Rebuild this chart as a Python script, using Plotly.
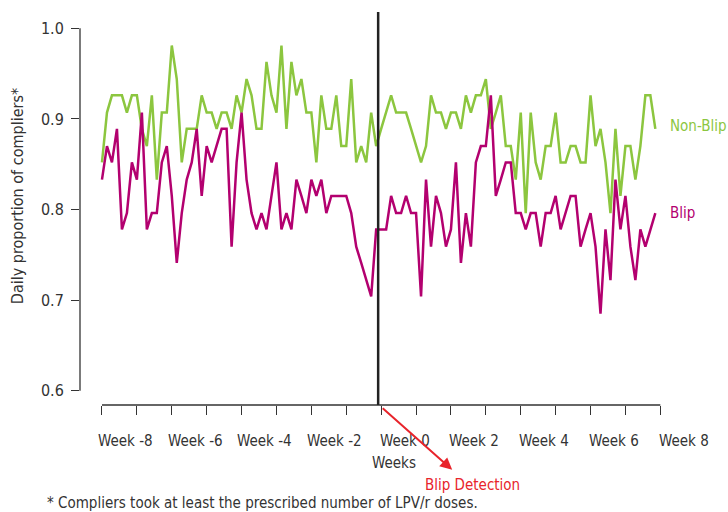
import plotly.graph_objects as go

# Daily index (days relative to blip detection)
days = list(range(-56, 56))

non_blip = [
    0.852, 0.907, 0.926, 0.926, 0.926, 0.907, 0.926, 0.926, 0.889, 0.870,
    0.926, 0.833, 0.907, 0.907, 0.981, 0.944, 0.852, 0.889, 0.889, 0.889,
    0.926, 0.907, 0.907, 0.889, 0.907, 0.907, 0.889, 0.926, 0.907, 0.944,
    0.926, 0.889, 0.889, 0.963, 0.926, 0.907, 0.981, 0.889, 0.963, 0.926,
    0.944, 0.907, 0.907, 0.852, 0.926, 0.889, 0.889, 0.926, 0.870, 0.870,
    0.944, 0.852, 0.870, 0.852, 0.907, 0.870, 0.889, 0.907, 0.926, 0.907,
    0.907, 0.907, 0.889, 0.870, 0.852, 0.870, 0.926, 0.907, 0.907, 0.889,
    0.907, 0.907, 0.889, 0.926, 0.907, 0.926, 0.926, 0.944, 0.889, 0.907,
    0.926, 0.870, 0.870, 0.833, 0.907, 0.796, 0.907, 0.852, 0.833, 0.870,
    0.870, 0.907, 0.852, 0.852, 0.870, 0.870, 0.852, 0.852, 0.926, 0.870,
    0.889, 0.852, 0.796, 0.889, 0.815, 0.870, 0.870, 0.833, 0.870, 0.926,
    0.926, 0.889,
]

blip = [
    0.833, 0.870, 0.852, 0.889, 0.778, 0.796, 0.852, 0.833, 0.907, 0.778,
    0.796, 0.796, 0.852, 0.870, 0.815, 0.741, 0.796, 0.833, 0.852, 0.889,
    0.815, 0.870, 0.852, 0.870, 0.889, 0.889, 0.759, 0.852, 0.907, 0.833,
    0.796, 0.778, 0.796, 0.778, 0.815, 0.852, 0.778, 0.796, 0.778, 0.833,
    0.815, 0.796, 0.833, 0.815, 0.833, 0.796, 0.815, 0.815, 0.815, 0.815,
    0.796, 0.759, 0.741, 0.722, 0.704, 0.778, 0.778, 0.778, 0.815, 0.796,
    0.796, 0.815, 0.796, 0.796, 0.704, 0.833, 0.759, 0.815, 0.796, 0.759,
    0.778, 0.852, 0.741, 0.796, 0.759, 0.852, 0.870, 0.870, 0.926, 0.815,
    0.833, 0.852, 0.852, 0.796, 0.796, 0.778, 0.796, 0.796, 0.759, 0.796,
    0.796, 0.815, 0.778, 0.796, 0.815, 0.815, 0.759, 0.778, 0.796, 0.759,
    0.685, 0.778, 0.722, 0.833, 0.778, 0.815, 0.759, 0.722, 0.778, 0.759,
    0.778, 0.796,
]

week_ticks = [-56, -49, -42, -35, -28, -21, -14, -7, 0, 7, 14, 21, 28, 35, 42, 49, 56]
week_label_days = [-56, -42, -28, -14, 0, 14, 28, 42, 56]
week_labels = ["Week -8", "Week -6", "Week -4", "Week -2", "Week 0",
               "Week 2", "Week 4", "Week 6", "Week 8"]
y_ticks = [0.6, 0.7, 0.8, 0.9, 1.0]
y_ticktext = ["0.6", "0.7", "0.8", "0.9", "1.0"]

GREEN = "#8cc63f"
MAGENTA = "#b3006f"
RED = "#e8242b"
TXT = "#333333"
FONT = "DejaVu Sans Condensed, Liberation Sans Narrow, sans-serif"
FS = 15

X0, X1 = -60.41, 57.54
L, R, T, B = 80, 60, 12, 107


def xpaper(d):
    return (d - X0) / (X1 - X0)


fig = go.Figure()
fig.add_trace(go.Scatter(x=days, y=non_blip, mode="lines",
                         line=dict(color=GREEN, width=2.5), name="Non-Blip",
                         showlegend=False))
fig.add_trace(go.Scatter(x=days, y=blip, mode="lines",
                         line=dict(color=MAGENTA, width=2.5), name="Blip",
                         showlegend=False))

fig.update_layout(
    width=728, height=512,
    margin=dict(l=L, r=R, t=T, b=B),
    paper_bgcolor="white", plot_bgcolor="white",
    font=dict(family=FONT, size=FS, color=TXT),
    xaxis=dict(range=[X0, X1], tickvals=week_ticks,
               ticktext=["" for _ in week_ticks],
               ticks="outside", ticklen=9, tickwidth=1.3, tickcolor=TXT,
               showline=False, showgrid=False, zeroline=False, fixedrange=True),
    yaxis=dict(range=[0.5842, 1.018], tickvals=y_ticks, ticktext=y_ticktext,
               ticks="outside", ticklen=8, tickwidth=1.3, tickcolor=TXT,
               ticklabelstandoff=4, tickfont=dict(size=16),
               showline=False, showgrid=False, zeroline=False, fixedrange=True),
)

# axis lines
fig.add_shape(type="line", xref="x", yref="paper", x0=week_ticks[0], x1=week_ticks[-1],
              y0=0, y1=0, line=dict(color=TXT, width=1.3))
fig.add_shape(type="line", xref="paper", yref="y", x0=0, x1=0,
              y0=y_ticks[0], y1=y_ticks[-1], line=dict(color=TXT, width=1.3))
# blip detection line
fig.add_shape(type="line", xref="x", yref="paper", x0=-0.6, x1=-0.6, y0=0, y1=1,
              line=dict(color="#222222", width=2.5))

for d, lab in zip(week_label_days, week_labels):
    fig.add_annotation(x=xpaper(d + 4.7), y=0, xref="paper", yref="paper", text=lab,
                       showarrow=False, yshift=-36, yanchor="middle", xanchor="center",
                       font=dict(family=FONT, size=FS, color=TXT))

fig.add_annotation(x=0.534, y=0, xref="paper", yref="paper", text="Weeks",
                   showarrow=False, yshift=-58, yanchor="middle", xanchor="center",
                   font=dict(family=FONT, size=FS, color=TXT))
fig.add_annotation(x=0.668, y=0, xref="paper", yref="paper", text="Blip Detection",
                   showarrow=False, yshift=-80, yanchor="middle", xanchor="center",
                   font=dict(family=FONT, size=FS, color=RED))
fig.add_annotation(x=-0.0595, y=0, xref="paper", yref="paper",
                   text="* Compliers took at least the prescribed number of LPV/r doses.",
                   showarrow=False, yshift=-98, yanchor="middle", xanchor="left",
                   font=dict(family=FONT, size=FS, color=TXT))
# arrow
fig.add_annotation(x=0.633, y=-0.165, xref="paper", yref="paper", text="",
                   showarrow=True, ax=-71, ay=-63, arrowhead=2, arrowsize=1.2,
                   arrowwidth=2, arrowcolor=RED)
# series labels
fig.add_annotation(x=1.0, y=0.892, xref="paper", yref="y", text="Non-Blip",
                   showarrow=False, xanchor="left", yanchor="middle",
                   font=dict(family=FONT, size=FS, color=GREEN))
fig.add_annotation(x=1.0, y=0.796, xref="paper", yref="y", text="Blip",
                   showarrow=False, xanchor="left", yanchor="middle",
                   font=dict(family=FONT, size=FS, color=MAGENTA))
# y title
fig.add_annotation(x=-0.105, y=0.532, xref="paper", yref="paper",
                   text="Daily proportion of compliers*", textangle=-90,
                   showarrow=False, xanchor="center", yanchor="middle",
                   font=dict(family=FONT, size=16, color=TXT))

fig.write_html("out.html", config={"displayModeBar": False},
               post_script="document.body.style.margin='0px';document.body.style.padding='0px';")
